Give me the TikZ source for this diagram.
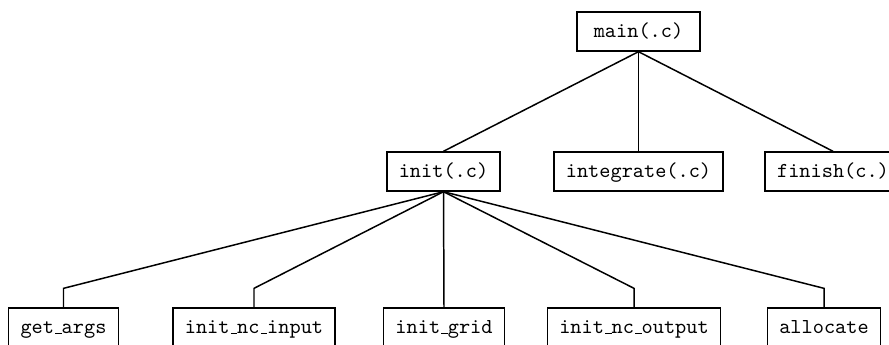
\documentclass[tikz,border=0pt]{standalone}
\usepackage{tikz}
\newcommand{\uscore}{\leavevmode\kern.06em\vbox{\hrule width .3em}}
\newcommand{\boxheight}{18.3pt}
\newcommand{\elbowrise}{8.9pt}
\tikzstyle{module}=[draw, rectangle, font=\ttfamily, inner xsep=5.6pt, inner ysep=0,
                    minimum height=\boxheight, text height=1.6ex, text depth=.3ex]
\tikzstyle{calltree}=[x=0.47pt, y=-0.47pt, line width=0.7pt,
                      % every module box uses the same frame
                      every node/.style={module}]

\begin{document}
\begin{tikzpicture}[calltree]
        \useasboundingbox (0, 0) rectangle (889, 345);
        \clip (0, 0) rectangle (889, 345);
        % top level
        \node[inner xsep=8pt] (main) at (638.5, 31.5) {main(.c)};
        \node (init) at (443.5, 171.5) {init(.c)};
        \node (integrate) at (638.5, 171.5) {integrate(.c)};
        \node (finish) at (833, 171.5) {finish(c.)};
        \draw (main.south) -- (init.north);
        \draw (main.south) -- (integrate.north);
        \draw (main.south) -- (finish.north);
        % called from init
        \node (getargs) at (63.5, 327.5) {get\uscore args};
        \node (ncinput) at (254, 327.5) {init\uscore nc\uscore input};
        \node (grid) at (444, 327.5) {init\uscore grid};
        \node (ncoutput) at (634, 327.5) {init\uscore nc\uscore output};
        \node (allocate) at (824, 327.5) {allocate};
        \draw (init.south) -- ([yshift=\elbowrise]getargs.north) -- (getargs.north);
        \draw (init.south) -- ([yshift=\elbowrise]ncinput.north) -- (ncinput.north);
        \draw (init.south) -- (grid.north);
        \draw (init.south) -- ([yshift=\elbowrise]ncoutput.north) -- (ncoutput.north);
        \draw (init.south) -- ([yshift=\elbowrise]allocate.north) -- (allocate.north);
    \end{tikzpicture}
\end{document}
